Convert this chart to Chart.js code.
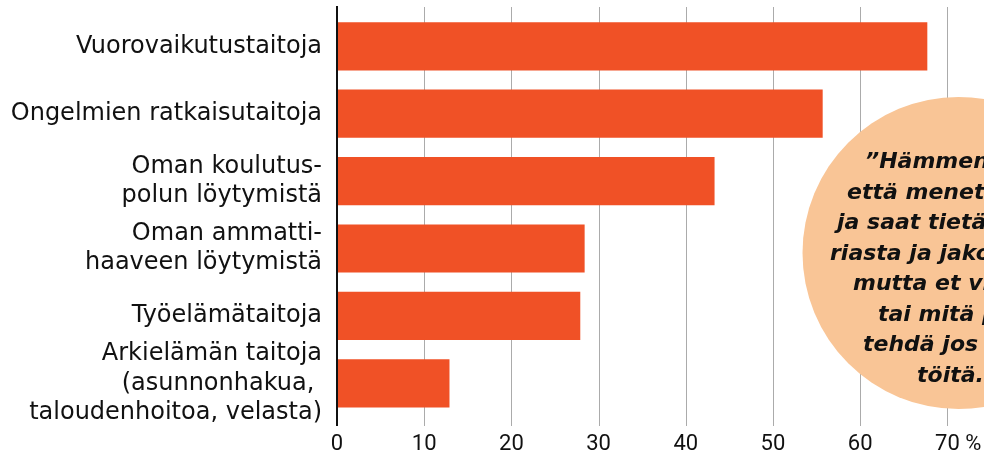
<!DOCTYPE html>
<html>
<head>
<meta charset="utf-8">
<script src="https://cdn.jsdelivr.net/npm/chart.js@4"></script>
<style>
  html, body { margin: 0; padding: 0; background: #fff; }
  #wrap { width: 984px; height: 464px; position: relative; }
</style>
</head>
<body>
<div id="wrap"><canvas id="skillsChart"></canvas></div>
<script>
// Categories (multi-line labels) and shares in percent
const categories = [
  ['Vuorovaikutustaitoja'],
  ['Ongelmien ratkaisutaitoja'],
  ['Oman koulutus-', 'polun löytymistä'],
  ['Oman ammatti-', 'haaveen löytymistä'],
  ['Työelämätaitoja'],
  ['Arkielämän taitoja', '(asunnonhakua, ', 'taloudenhoitoa, velasta)']
];
const shares = [67.7, 55.7, 43.3, 28.4, 27.9, 12.9];
const xTicks = [0, 10, 20, 30, 40, 50, 60, 70];
const quoteLines = [
  '\u201DHämmentää,',
  'että menet kouluun',
  'ja saat tietää histo-',
  'riasta ja jakolaskusta,',
  'mutta et vieläkään tiedä',
  'tai mitä pitää',
  'tehdä jos ei ole',
  'töitä...\u201D'
];

const BAR = '#f05126';
const FONT = '"DejaVu Sans", sans-serif';
const TICK_FONT = 'Roboto, "DejaVu Sans", sans-serif';
const TICK_SIZE = 22;

// vertical grid + axis line, drawn a bit taller than the bar area
const gridPlugin = {
  id: 'tallGrid',
  beforeDatasetsDraw(chart) {
    const { ctx, scales: { x } } = chart;
    const top = 7, bottom = 426;
    ctx.save();
    xTicks.forEach(v => {
      if (v === 0) return;
      const px = Math.round(x.getPixelForValue(v)) + 0.5;
      ctx.strokeStyle = '#ababab';
      ctx.lineWidth = 1;
      ctx.beginPath();
      ctx.moveTo(px, top);
      ctx.lineTo(px, bottom);
      ctx.stroke();
    });
    ctx.restore();
  },
  afterDatasetsDraw(chart) {
    const { ctx, scales: { x } } = chart;
    ctx.save();
    const px = x.getPixelForValue(0);
    ctx.strokeStyle = '#111';
    ctx.lineWidth = 2;
    ctx.beginPath();
    ctx.moveTo(px, 6);
    ctx.lineTo(px, 426);
    ctx.stroke();

    // unit after the last tick label
    const last = xTicks[xTicks.length - 1];
    ctx.font = TICK_SIZE + 'px ' + TICK_FONT;
    ctx.fillStyle = '#111';
    ctx.textAlign = 'left';
    ctx.textBaseline = 'middle';
    const w = ctx.measureText(String(last)).width;
    const lbl = x.getLabelItems().find(it => it.label === String(last));
    const ly = lbl ? lbl.options.translation[1] + (lbl.textOffset || 0) : 441;
    ctx.fillText(' %', x.getPixelForValue(last) + w / 2, ly);

    // quote bubble
    ctx.fillStyle = '#f9c596';
    ctx.beginPath();
    ctx.arc(958.5, 253, 156, 0, Math.PI * 2);
    ctx.fill();

    ctx.fillStyle = '#111';
    ctx.font = 'italic bold 22px ' + FONT;
    ctx.textAlign = 'left';
    ctx.textBaseline = 'alphabetic';
    const starts = [865, 847, 837, 830, 853, 878, 863, 917];
    quoteLines.forEach((line, i) => {
      ctx.fillText(line, starts[i], 168 + i * 30.5);
    });
    ctx.restore();
  }
};

new Chart(document.getElementById('skillsChart'), {
  type: 'bar',
  data: {
    labels: categories,
    datasets: [{
      data: shares,
      backgroundColor: BAR,
      borderWidth: 0,
      categoryPercentage: 1,
      barPercentage: 0.715
    }]
  },
  options: {
    indexAxis: 'y',
    responsive: true,
    maintainAspectRatio: false,
    animation: false,
    layout: { padding: { top: 12.6, right: 0, bottom: 0, left: 0 } },
    plugins: {
      legend: { display: false },
      tooltip: { enabled: false }
    },
    scales: {
      x: {
        min: 0,
        max: 74.2,
        afterBuildTicks: (axis) => { axis.ticks = xTicks.map(v => ({ value: v })); },
        afterFit: (axis) => {
          axis.height = 47;
          axis.paddingLeft = 0;
          axis.paddingRight = 0;
        },
        grid: { display: false, drawTicks: false },
        border: { display: false },
        ticks: {
          padding: 14,
          color: '#111',
          font: { family: TICK_FONT, size: TICK_SIZE },
          maxRotation: 0,
          autoSkip: false,
          callback: (val) => String(val)
        }
      },
      y: {
        afterFit: (axis) => {
          axis.width = 337;
          axis.paddingTop = 0;
          axis.paddingBottom = 0;
        },
        grid: { display: false, drawTicks: false },
        border: { display: false },
        ticks: {
          padding: 15,
          autoSkip: false,
          color: '#111',
          font: { family: FONT, size: 24, lineHeight: 1.22 }
        }
      }
    }
  },
  plugins: [gridPlugin]
});
</script>
</body>
</html>
